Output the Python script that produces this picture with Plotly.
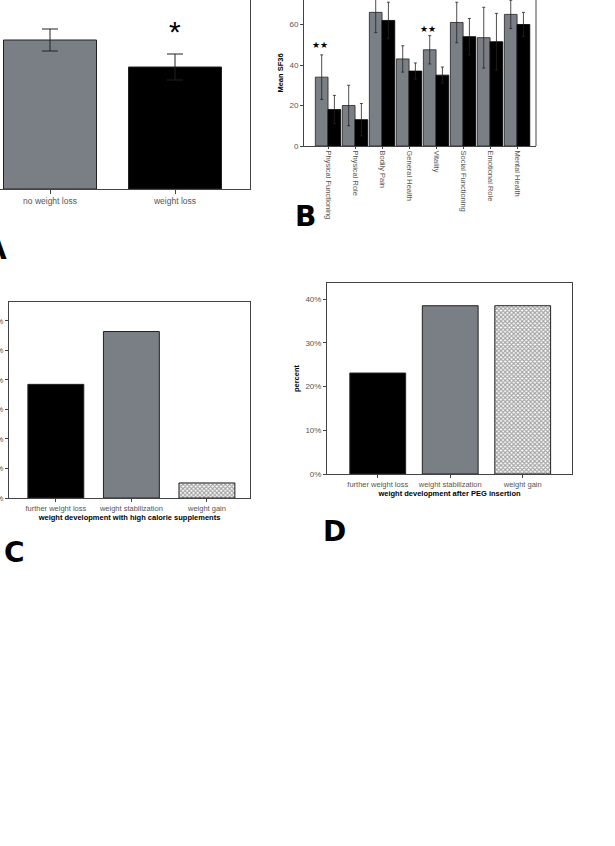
import plotly.graph_objects as go

W, H = 615, 846

# ---------------- data ----------------
A_cats = ["no weight loss", "weight loss"]
A_vals = [59.6, 48.8]
A_err = [4.4, 5.2]

B_cats = ["Physical Functioning", "Physical Role", "Bodily Pain", "General Health",
          "Vitality", "Social Functioning", "Emotional Role", "Mental Health"]
B_noloss = [34, 20, 66, 43, 47.5, 61, 53.5, 65]
B_noloss_err = [11, 10, 10, 6.5, 7, 10, 15, 7]
B_loss = [18, 13, 62, 37, 35, 54, 51.5, 60]
B_loss_err = [7, 8, 9, 4, 4, 9, 14, 6]
B_yticks = [0, 20, 40, 60]

C_cats = ["further weight loss", "weight stabilization", "weight gain"]
C_vals = [38.5, 56.4, 5.1]
C_yticks = [0, 10, 20, 30, 40, 50, 60]

D_cats = ["further weight loss", "weight stabilization", "weight gain"]
D_vals = [23.1, 38.5, 38.5]
D_yticks = [0, 10, 20, 30, 40]

GRAY = "#7a7f86"
LINE = "#444444"
TICKC = "#555555"
FONT = "Liberation Sans, Arial, sans-serif"


def px_x(p):
    return p / W


def px_y(p):
    return 1 - p / H


fig = go.Figure()

PATTERN = dict(shape=["", "", "x"], fgcolor="#000", bgcolor="#ffffff", size=3, solidity=0.6)

# ---------------- Panel A ----------------
fig.add_trace(go.Bar(
    x=[0, 1], y=A_vals, width=0.744,
    marker=dict(color=[GRAY, "#000000"], line=dict(color="#222", width=1)),
    error_y=dict(type="data", array=A_err, color="#222", thickness=1, width=8),
    xaxis="x", yaxis="y", showlegend=False))

# ---------------- Panel B ----------------
fig.add_trace(go.Bar(
    x=list(range(len(B_cats))), y=B_noloss, offset=-0.47, width=0.47,
    marker=dict(color=GRAY, line=dict(color="#222", width=0.8)),
    error_y=dict(type="data", array=B_noloss_err, color="#222", thickness=0.8, width=1.5),
    xaxis="x2", yaxis="y2", showlegend=False))
fig.add_trace(go.Bar(
    x=list(range(len(B_cats))), y=B_loss, offset=0.0, width=0.47,
    marker=dict(color="#000000", line=dict(color="#000", width=0.8)),
    error_y=dict(type="data", array=B_loss_err, color="#222", thickness=0.8, width=1.5),
    xaxis="x2", yaxis="y2", showlegend=False))

# ---------------- Panel C ----------------
fig.add_trace(go.Bar(
    x=[0, 1, 2], y=C_vals, width=0.74,
    marker=dict(color=["#000000", GRAY, "#ffffff"],
                line=dict(color="#222", width=1), pattern=PATTERN),
    xaxis="x3", yaxis="y3", showlegend=False))

# ---------------- Panel D ----------------
fig.add_trace(go.Bar(
    x=[0, 1, 2], y=D_vals, width=0.77,
    marker=dict(color=["#000000", GRAY, "#ffffff"],
                line=dict(color="#222", width=1), pattern=PATTERN),
    xaxis="x4", yaxis="y4", showlegend=False))

tickfont = dict(family=FONT, size=8, color=TICKC)
titlefont = dict(family=FONT, size=7.5, color="#000")

common = dict(automargin=False, showgrid=False, zeroline=False, linecolor=LINE,
              linewidth=1, tickcolor=LINE)

layout = dict(
    width=W, height=H, margin=dict(l=0, r=0, t=0, b=0, autoexpand=False),
    paper_bgcolor="white", plot_bgcolor="white",
    font=dict(family=FONT),
    bargap=0.05, bargroupgap=0,
    # A
    xaxis=dict(domain=[0, px_x(250)], range=[-0.4, 1.6], tickvals=[0, 1], ticktext=A_cats,
               showline=True, ticks="outside", ticklen=4,
               tickfont=dict(family=FONT, size=8.5, color=TICKC), anchor="y", **common),
    yaxis=dict(domain=[px_y(189), 1], range=[0, 75.6], side="right", showline=True,
               showticklabels=False, ticks="", anchor="x", **common),
    # B
    xaxis2=dict(domain=[px_x(304), px_x(536)], range=[-0.89, 7.7],
                tickvals=list(range(len(B_cats))), ticktext=B_cats, tickangle=90,
                showline=True, ticks="outside", ticklen=2,
                tickfont=dict(family=FONT, size=7.5, color=TICKC), anchor="y2", **common),
    yaxis2=dict(domain=[px_y(146), 1], range=[0, 72.1], tickvals=B_yticks,
                showline=True, ticks="outside", ticklen=3, tickfont=tickfont,
                title=dict(text="<b>Mean SF36</b>", font=titlefont, standoff=4),
                anchor="x2", **common),
    # C
    xaxis3=dict(domain=[px_x(9), px_x(250)], range=[-0.62, 2.57], tickvals=[0, 1, 2],
                ticktext=C_cats, showline=True, mirror=True,
                ticks="outside", ticklen=3,
                tickfont=dict(family=FONT, size=7.5, color=TICKC),
                title=dict(text="<b>weight development with high calorie supplements</b>",
                           font=titlefont, standoff=2),
                anchor="y3", **common),
    yaxis3=dict(domain=[px_y(498), px_y(302)], range=[0, 66.4], tickvals=C_yticks,
                ticktext=[f"{v}%" for v in C_yticks], showline=True, mirror=True,
                ticks="outside", ticklen=3, tickfont=tickfont,
                anchor="x3", **common),
    # D
    xaxis4=dict(domain=[px_x(327), px_x(572)], range=[-0.70, 2.68], tickvals=[0, 1, 2],
                ticktext=D_cats, showline=True, mirror=True,
                ticks="outside", ticklen=3,
                tickfont=dict(family=FONT, size=7.5, color=TICKC),
                title=dict(text="<b>weight development after PEG insertion</b>",
                           font=titlefont, standoff=2),
                anchor="y4", **common),
    yaxis4=dict(domain=[px_y(474), px_y(283)], range=[0, 43.7], tickvals=D_yticks,
                ticktext=[f"{v}%" for v in D_yticks], showline=True, mirror=True,
                ticks="outside", ticklen=3, tickfont=tickfont,
                title=dict(text="<b>percent</b>", font=titlefont, standoff=4),
                anchor="x4", **common),
)
fig.update_layout(**layout)

# right border for panel B
fig.add_shape(type="line", xref="x2 domain", yref="y2 domain", x0=1, x1=1, y0=0, y1=1,
              line=dict(color=LINE, width=1))

# significance marks
fig.add_annotation(x=1, y=A_vals[1] + A_err[1] + 9, xref="x", yref="y", text="*",
                   showarrow=False, font=dict(family=FONT, size=30, color="#000"))
fig.add_annotation(x=-0.3, y=50, xref="x2", yref="y2", text="★★",
                   showarrow=False, font=dict(family="DejaVu Sans", size=9, color="#000"))
fig.add_annotation(x=3.7, y=58, xref="x2", yref="y2", text="★★",
                   showarrow=False, font=dict(family="DejaVu Sans", size=9, color="#000"))

# panel letters
letter_font = dict(family="DejaVu Sans, Arial", size=28, color="#000")
for txt, xp, yp in [("A", -4, 250), ("B", 305, 217), ("C", 14, 552), ("D", 334, 531)]:
    fig.add_annotation(x=px_x(xp), y=px_y(yp), xref="paper", yref="paper",
                       text=f"<b>{txt}</b>", showarrow=False, font=letter_font,
                       xanchor="center", yanchor="middle")

fig.write_html("out.html")
